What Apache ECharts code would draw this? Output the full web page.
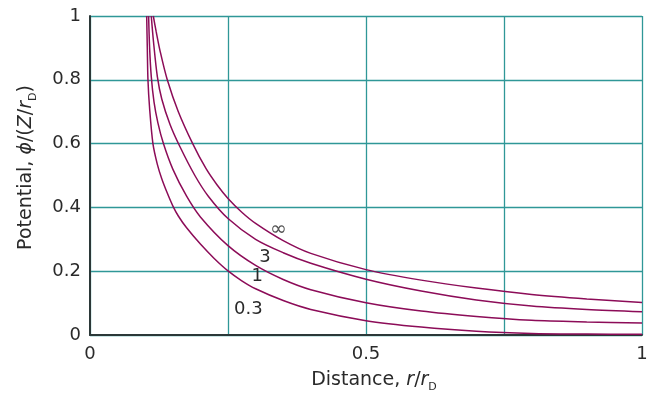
<!DOCTYPE html>
<html>
<head>
<meta charset="utf-8">
<script src="https://cdn.jsdelivr.net/npm/echarts@6/dist/echarts.min.js"></script>
<style>html,body{margin:0;padding:0;background:#fff;}#c{width:652px;height:398px;}</style>
</head>
<body>
<div id="c"></div>
<script>
// Curves: [r/rD, potential]
const curveInf = [[0.1147,1.0],[0.12,0.95],[0.127,0.89],[0.14,0.80],[0.16,0.70],[0.186,0.60],[0.21,0.522],[0.23,0.471],[0.25,0.428],[0.275,0.385],[0.3,0.35],[0.35,0.296],[0.4,0.256],[0.5,0.205],[0.6,0.172],[0.7,0.147],[0.8,0.127],[0.9,0.113],[1.0,0.102]];
const curve3 = [[0.111,1.0],[0.115,0.92],[0.122,0.81],[0.13,0.74],[0.145,0.66],[0.163,0.59],[0.19,0.50],[0.2143,0.435],[0.25,0.365],[0.3,0.30],[0.35,0.258],[0.4,0.225],[0.5,0.175],[0.6,0.138],[0.7,0.11],[0.8,0.091],[0.9,0.08],[1.0,0.073]];
const curve1 = [[0.1062,1.0],[0.108,0.9],[0.111,0.81],[0.116,0.73],[0.123,0.665],[0.133,0.6],[0.15,0.52],[0.175,0.435],[0.2,0.37],[0.25,0.28],[0.3,0.218],[0.35,0.174],[0.4,0.142],[0.5,0.101],[0.6,0.075],[0.7,0.058],[0.8,0.046],[0.9,0.041],[1.0,0.038]];
const curve03 = [[0.1027,1.0],[0.1038,0.9],[0.105,0.8],[0.108,0.71],[0.114,0.6],[0.122,0.535],[0.13,0.49],[0.14,0.445],[0.15,0.405],[0.16,0.373],[0.175,0.336],[0.2,0.285],[0.225,0.24],[0.25,0.201],[0.275,0.17],[0.3,0.145],[0.35,0.108],[0.4,0.08],[0.5,0.045],[0.6,0.025],[0.7,0.012],[0.8,0.005],[0.9,0.003],[1.0,0.002]];
const curveNames = ['∞','3','1','0.3'];
const curveLabelAt = [[0.341,0.329],[0.317,0.242],[0.303,0.185],[0.287,0.082]];
const xTickLabels = {'0':'0','0.5':'0.5','1':'1'};
const yTickLabels = {'0':'0','0.2':'0.2','0.4':'0.4','0.6':'0.6','0.8':'0.8','1':'1'};

const FONT = '"DejaVu Sans", sans-serif';
const TXT = '#2a2a2a';
const lineColor = '#8c0c58';
const gridColor = '#2f9797';
const allCurves = [curveInf, curve3, curve1, curve03];

const series = allCurves.map((d, i) => ({
  type: 'line',
  data: d,
  showSymbol: false,
  smooth: 0.3,
  lineStyle: {color: lineColor, width: 1.5},
  silent: true,
  markPoint: {
    symbol: 'circle', symbolSize: 0,
    label: {show: true, formatter: curveNames[i], color: i === 0 ? '#555' : TXT, fontSize: i === 0 ? 20 : 18, fontFamily: FONT, position: 'inside'},
    data: [{coord: curveLabelAt[i]}]
  }
}));

const richName = {
  a: {fontSize: 19, fontFamily: FONT, color: TXT, verticalAlign: 'bottom', lineHeight: 24},
  i: {fontSize: 19, fontFamily: FONT, fontStyle: 'italic', color: TXT, verticalAlign: 'bottom', lineHeight: 24},
  s: {fontSize: 11, fontFamily: FONT, color: TXT, verticalAlign: 'bottom', lineHeight: 24, padding: [0,0,-3,0]}
};

const chart = echarts.init(document.getElementById('c'), null, {renderer: 'canvas'});
chart.setOption({
  animation: false,
  backgroundColor: '#ffffff',
  grid: {left: 90, right: 10, top: 16, bottom: 58, containLabel: false},
  xAxis: {
    type: 'value', min: 0, max: 1, interval: 0.25,
    axisLine: {show: true, onZero: false, lineStyle: {color: '#2b3838', width: 2}},
    axisTick: {show: false},
    splitLine: {show: true, lineStyle: {color: gridColor, width: 1.3}},
    axisLabel: {
      margin: 10, color: TXT, fontSize: 18, fontFamily: FONT,
      formatter: v => { const k = String(+v.toFixed(2)); return xTickLabels[k] !== undefined ? xTickLabels[k] : ''; }
    },
    name: '{a|Distance, }{i|r}{a|/}{i|r}{s|D}',
    nameLocation: 'middle', nameGap: 31,
    nameTextStyle: {padding: [0, 0, 0, 16], rich: richName}
  },
  yAxis: {
    type: 'value', min: 0, max: 1, interval: 0.2,
    axisLine: {show: true, onZero: false, lineStyle: {color: '#2b3838', width: 2}},
    axisTick: {show: false},
    splitLine: {show: true, lineStyle: {color: gridColor, width: 1.3}},
    axisLabel: {
      margin: 9, color: TXT, fontSize: 18, fontFamily: FONT,
      formatter: v => { const k = String(+v.toFixed(2)); return yTickLabels[k] !== undefined ? yTickLabels[k] : ''; }
    },
    name: '{a|Potential, }{i|ϕ}{a|/(}{i|Z}{a|/}{i|r}{s|D}{a|)}',
    nameLocation: 'middle', nameGap: 54,
    nameTextStyle: {padding: [0, 0, 0, 16], rich: richName}
  },
  series: series
});
</script>
</body>
</html>
